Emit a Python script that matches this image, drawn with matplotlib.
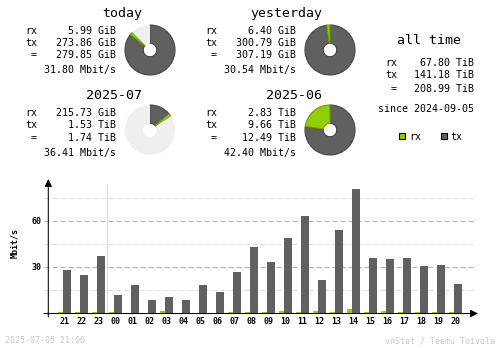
import numpy as np
import matplotlib
matplotlib.use("Agg")
import matplotlib.pyplot as plt
from matplotlib.patches import Rectangle

W, H = 500, 348
MONO = "DejaVu Sans Mono"
RX_COLOR = "#92cf00"
TX_COLOR = "#606060"
PIE_BG = "#efefef"

# hourly averages, last 24 hours
hours = ["21", "22", "23", "00", "01", "02", "03", "04", "05", "06", "07", "08",
         "09", "10", "11", "12", "13", "14", "15", "16", "17", "18", "19", "20"]
tx_rate = [28.3, 25.0, 37.4, 12.0, 18.5, 8.7, 10.7, 8.7, 18.5, 13.9, 27.0, 43.3,
           33.5, 49.1, 63.5, 21.7, 54.3, 81.1, 36.1, 35.4, 36.1, 30.9, 31.5, 19.1]
rx_rate = [0.8, 0.8, 0.8, 0.8, 0.1, 0.1, 1.4, 0.1, 0.1, 0.1, 0.8, 0.8,
           0.8, 1.4, 0.8, 1.4, 0.8, 2.8, 0.8, 1.4, 0.8, 0.8, 0.8, 0.8]

# summary blocks
periods = ["today", "yesterday", "2025-07", "2025-06"]
rx_text = ["5.99 GiB", "6.40 GiB", "215.73 GiB", "2.83 TiB"]
tx_text = ["273.86 GiB", "300.79 GiB", "1.53 TiB", "9.66 TiB"]
total_text = ["279.85 GiB", "307.19 GiB", "1.74 TiB", "12.49 TiB"]
avg_text = ["31.80 Mbit/s", "30.54 Mbit/s", "36.41 Mbit/s", "42.40 Mbit/s"]
rx_gib = [5.99, 6.40, 215.73, 2.83 * 1024]
tx_gib = [273.86, 300.79, 1.53 * 1024, 9.66 * 1024]
elapsed = [21 / 24, 1.0, (4 + 21 / 24) / 31, 1.0]

alltime_labels = ["rx", "tx", "="]
alltime_values = ["67.80 TiB", "141.18 TiB", "208.99 TiB"]
since_text = "since 2024-09-05"

fig = plt.figure(figsize=(W / 100, H / 100), dpi=100)
fig.patch.set_facecolor("white")

# overlay in pixel coordinates for the text parts
ov = fig.add_axes([0, 0, 1, 1])
ov.set_xlim(0, W)
ov.set_ylim(H, 0)
ov.axis("off")

def txt(x, y, s, size=7.2, ha="left", **kw):
    ov.text(x, y, s, fontsize=size, family=MONO, ha=ha, va="baseline", **kw)

block_off = [(0, 0), (180, 0), (0, 82.5), (180, 82.5)]
pie_centers = [(150, 50), (330, 50), (150, 130), (330, 130)]
row_y = [33.5, 45.7, 58.3]

for i, name in enumerate(periods):
    dx, dy = block_off[i]
    txt(142 + dx, 16.7 + dy, name, size=9.5, ha="right")
    for lab, val, y in zip(["rx", "tx", "="], [rx_text[i], tx_text[i], total_text[i]], row_y):
        txt(37 + dx, y + dy, lab, ha="right")
        txt(115.5 + dx, y + dy, val, ha="right")
    txt(115.5 + dx, 73.5 + dy, avg_text[i], ha="right")

    # donut: filled share of the period, split into tx then rx
    cx, cy = pie_centers[i]
    pa = fig.add_axes([(cx - 26) / W, (H - cy - 26) / H, 52 / W, 52 / H])
    tot = rx_gib[i] + tx_gib[i]
    vals = [tx_gib[i] / tot * elapsed[i], rx_gib[i] / tot * elapsed[i], 1 - elapsed[i]]
    wedges, _ = pa.pie(vals, colors=[TX_COLOR, RX_COLOR, PIE_BG], startangle=90,
                       counterclock=False, radius=1,
                       wedgeprops=dict(width=0.73, linewidth=0.8))
    wedges[0].set_edgecolor("#454545")
    wedges[1].set_edgecolor("#6f9c00")
    wedges[2].set_edgecolor(PIE_BG)
    wedges[2].set_linewidth(0)
    pa.set_xlim(-1.04, 1.04)
    pa.set_ylim(-1.04, 1.04)
    pa.axis("off")

# all time block
txt(429, 44.3, "all time", size=9.5, ha="center")
for lab, val, y in zip(alltime_labels, alltime_values, [66, 77.7, 91.7]):
    txt(397, y, lab, ha="right")
    txt(474, y, val, ha="right")
txt(426, 111.7, since_text, ha="center")
ov.add_patch(Rectangle((398.7, 133.3), 6, 6, facecolor=RX_COLOR, edgecolor="black", lw=0.8))
txt(409, 140, "rx")
ov.add_patch(Rectangle((440.7, 133.3), 6, 6, facecolor=TX_COLOR, edgecolor="black", lw=0.8))
txt(450.5, 140, "tx")

# footer
ov.text(5, 343, "2025-07-05 21:00", fontsize=6, family=MONO, color="#c8c8c8", va="baseline")
ov.text(495, 343, "vnStat / Teemu Toivola", fontsize=6, family=MONO, color="#c8c8c8",
        va="baseline", ha="right")

# hourly bar graph
X0, STEP = 64.5, 17.0
BASE, PX_PER = 313.0, 46 / 30
left_px, right_px, top_px, bot_px = 44, 478, 179, 317
ax = fig.add_axes([left_px / W, (H - bot_px) / H, (right_px - left_px) / W, (bot_px - top_px) / H])
ax.set_xlim((left_px - X0) / STEP, (right_px - X0) / STEP)
ax.set_ylim((BASE - bot_px) / PX_PER, (BASE - top_px) / PX_PER)
ax.patch.set_alpha(0)
for s in ax.spines.values():
    s.set_visible(False)

x = np.arange(len(hours))
grid_l, grid_r = (left_px - X0) / STEP, (472.7 - X0) / STEP
for v in [15, 45, 75]:
    ax.hlines(v, grid_l, grid_r, colors="#dedede", linestyles=(0, (5, 3)), linewidth=0.72, zorder=1)
for v in [30, 60]:
    ax.hlines(v, grid_l, grid_r, colors="#b0b0b0", linestyles=(0, (5, 3)), linewidth=0.72, zorder=1)

# day change marker between 23 and 00
ax.vlines(2.5, 0, (BASE - 184) / PX_PER, colors="#dcdcdc", linewidth=0.9, zorder=1)

ax.bar(x - 0.235, rx_rate, width=0.26, color=RX_COLOR, zorder=4)
ax.bar(x + 0.138, tx_rate, width=0.49, color=TX_COLOR, zorder=2)

# axis lines sit in the pixel row just below the bars
axis_y = -0.5 / PX_PER
yaxis_x = (48.3 - X0) / STEP
arrow = dict(arrowstyle="-|>,head_length=0.45,head_width=0.22",
             color="black", lw=0.75, shrinkA=0, shrinkB=0)
ax.annotate("", xy=(1, axis_y), xycoords=("axes fraction", "data"),
            xytext=(0, axis_y), textcoords=("axes fraction", "data"),
            arrowprops=arrow, zorder=3)
ax.annotate("", xy=(yaxis_x, 1), xycoords=("data", "axes fraction"),
            xytext=(yaxis_x, 0), textcoords=("data", "axes fraction"),
            arrowprops=arrow, zorder=3)

ax.set_xticks(x)
ax.set_xticklabels(hours, fontsize=6, family=MONO, weight="bold")
ax.set_yticks([30, 60])
ax.set_yticklabels(["30", "60"], fontsize=6, family=MONO, weight="bold")
ax.tick_params(axis="x", length=0, pad=0)
ax.tick_params(axis="y", length=0, pad=1.5)

ov.text(15, 243, "Mbit/s", fontsize=6, family=MONO, weight="bold", rotation=90,
        ha="center", va="center")

fig.savefig("out.png", dpi=100)
